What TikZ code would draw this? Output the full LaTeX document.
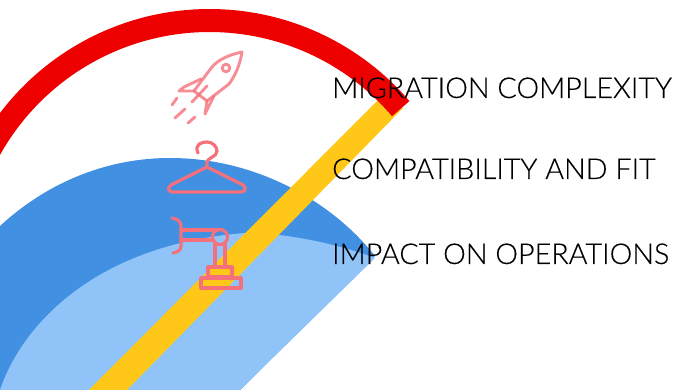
\documentclass[tikz,border=0pt]{standalone}
\usepackage{fontspec}
\setmainfont{Lato Light}[FakeBold=0.25]
\definecolor{rd}{HTML}{EE0000}
\definecolor{ye}{HTML}{FFC819}
\definecolor{db}{HTML}{4190E2}
\definecolor{lb}{HTML}{90C3F8}
\definecolor{ic}{HTML}{F4707A}
\tikzset{
  icon/.style={draw=ic,line width=3.2pt,line cap=round,line join=round},
  lab/.style={anchor=base west,inner sep=0pt,text=black,font=\fontsize{28.7}{30}\selectfont}
}
\begin{document}
\begin{tikzpicture}[x=1pt,y=-1pt]
\useasboundingbox (0,0) rectangle (681,390);
\begin{scope}
\clip (0,0) rectangle (681,390);
% dark blue
\fill[db] (0,400) -- (0,226) .. controls (50,180) and (110,158) .. (170,158) .. controls (260,158) and (335,205) .. (375,256) -- (240,390) -- (240,400) -- cycle;
% light blue
\fill[lb] (0,390) .. controls (20,330) and (90,245) .. (245,233) .. controls (290,233) and (340,245) .. (375,258) -- (240,390) -- cycle;
% yellow
\fill[ye] (89,390) -- (380,98) -- (403,108) -- (127,390) -- cycle;
% red
\draw[rd,line width=23pt] plot[domain=40.5:185,samples=120,smooth] ({209.5+251.5*cos(\x)},{272-251.5*sin(\x)});
\end{scope}
% rocket
\begin{scope}[icon,line width=2.9pt,opacity=.8]
\draw (242,52) .. controls (228,55) and (218,60) .. (212,67) -- (194,91) -- (207,101) -- (229,84) .. controls (235,76) and (240,65) .. (242,52) -- cycle;
\draw (226,68) circle[radius=3.8];
\draw (201,79) -- (184,87) -- (179,91) -- (194,91);
\draw (214,96) -- (205,114) -- (207,101);
\draw (172,105) -- (177,98);
\draw (175,118) -- (185,109);
\draw (188,123) -- (195,117);
\draw (192,102) -- (207,86);
\end{scope}
% hanger
\draw[icon] (198,153) .. controls (194,144) and (202,142) .. (207,142) .. controls (213,142) and (217,147) .. (217,151) .. controls (217,157) and (207,158) .. (207,162) -- (207,167) -- (243,185) .. controls (247,188) and (245,192) .. (241,192) -- (173,192) .. controls (168,192) and (167,188) .. (171,185) -- (207,167);
% robot
\draw[icon] (172,218) .. controls (178,219) and (181,222) .. (181,226) -- (181,246) .. controls (181,250) and (178,252) .. (173,253);
\draw[icon] (181,230) -- (217,230);
\draw[icon] (181,240) -- (213,240);
\draw[icon] (220,237) circle[radius=7.5];
\draw[icon] (215,244) -- (215,267) (225,244) -- (225,267);
\draw[icon] (208,267) rectangle (232,277);
\draw[icon] (201,278) rectangle (241,288);
% labels
\node[lab] (t1) at (332,98) {MIGRATION COMPLEXITY};
\node[lab] (t2) at (332,179) {COMPATIBILITY AND FIT};
\node[lab] (t3) at (332,264) {IMPACT ON OPERATIONS};
\end{tikzpicture}
\end{document}
